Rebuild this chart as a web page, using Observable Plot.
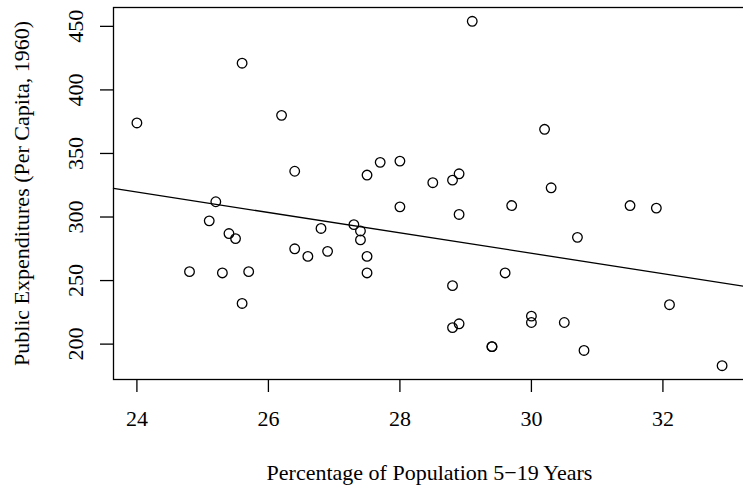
<!DOCTYPE html>
<html><head><meta charset="utf-8">
<script src="https://cdn.jsdelivr.net/npm/d3@7"></script>
<script src="https://cdn.jsdelivr.net/npm/@observablehq/plot@0.6"></script>
<style>body{margin:0;background:#fff;}</style>
</head><body><div id="chart"></div>
<script>
const youth = [24.0, 24.8, 25.1, 25.2, 25.3, 25.4, 25.5, 25.6, 25.6, 25.7,
  26.2, 26.4, 26.4, 26.6, 26.8, 26.9, 27.3, 27.4, 27.4, 27.5,
  27.5, 27.5, 27.7, 28.0, 28.0, 28.5, 28.8, 28.9, 28.9, 28.8,
  28.9, 28.8, 29.1, 29.4, 29.4, 29.6, 29.7, 30.0, 30.0, 30.2,
  30.3, 30.5, 30.7, 30.8, 31.5, 31.9, 32.1, 32.9];
const expend = [374, 257, 297, 312, 256, 287, 283, 421, 232, 257,
  380, 336, 275, 269, 291, 273, 294, 289, 282, 333,
  269, 256, 343, 344, 308, 327, 329, 334, 302, 246,
  216, 213, 454, 198, 198, 256, 309, 222, 217, 369,
  323, 217, 284, 195, 309, 307, 231, 183];
const xTicks = [24, 26, 28, 30, 32];
const yTicks = [200, 250, 300, 350, 400, 450];
const xLabel = "Percentage of Population 5\u221219 Years";
const yLabel = "Public Expenditures (Per Capita, 1960)";

const data = youth.map((x, i) => ({x, y: expend[i]}));
const mx = d3.mean(youth), my = d3.mean(expend);
const slope = d3.sum(youth, (x, i) => (x - mx) * (expend[i] - my)) / d3.sum(youth, x => (x - mx) ** 2);
const intercept = my - slope * mx;
const pad = ext => { const r = ext[1] - ext[0]; return [ext[0] - 0.04 * r, ext[1] + 0.04 * r]; };
const xDom = pad(d3.extent(youth)), yDom = pad(d3.extent(expend));
const fitLine = xDom.map(x => ({x, y: intercept + slope * x}));

const chart = Plot.plot({
  width: 743, height: 489,
  marginLeft: 113, marginRight: -2, marginTop: 7, marginBottom: 110,
  style: {fontFamily: '"Liberation Serif", "Times New Roman", serif', fontSize: "22px", background: "#fff", color: "#000"},
  x: {domain: xDom},
  y: {domain: yDom},
  marks: [
    Plot.frame({stroke: "#000", strokeWidth: 1.3}),
    Plot.axisX(xTicks, {tickSize: 13, tickPadding: 18, tickFormat: d => String(d), label: null, strokeWidth: 1.3}),
    Plot.axisY(yTicks, {tickSize: 13, tickFormat: () => "", label: null, strokeWidth: 1.3}),
    Plot.text(yTicks, {y: d => d, text: d => String(d), frameAnchor: "left", dx: -38, rotate: -90, lineAnchor: "middle", textAnchor: "middle"}),
    Plot.line(fitLine, {x: "x", y: "y", stroke: "#000", strokeWidth: 1.3}),
    Plot.dot(data, {x: "x", y: "y", r: 4.8, stroke: "#000", strokeWidth: 1.3, fill: "none"}),
    Plot.text([xLabel], {frameAnchor: "bottom", dy: 93, lineAnchor: "middle", textAnchor: "middle"}),
    Plot.text([yLabel], {frameAnchor: "left", dx: -92, rotate: -90, lineAnchor: "middle", textAnchor: "middle"})
  ]
});
document.getElementById("chart").appendChild(chart);
</script>
</body></html>
